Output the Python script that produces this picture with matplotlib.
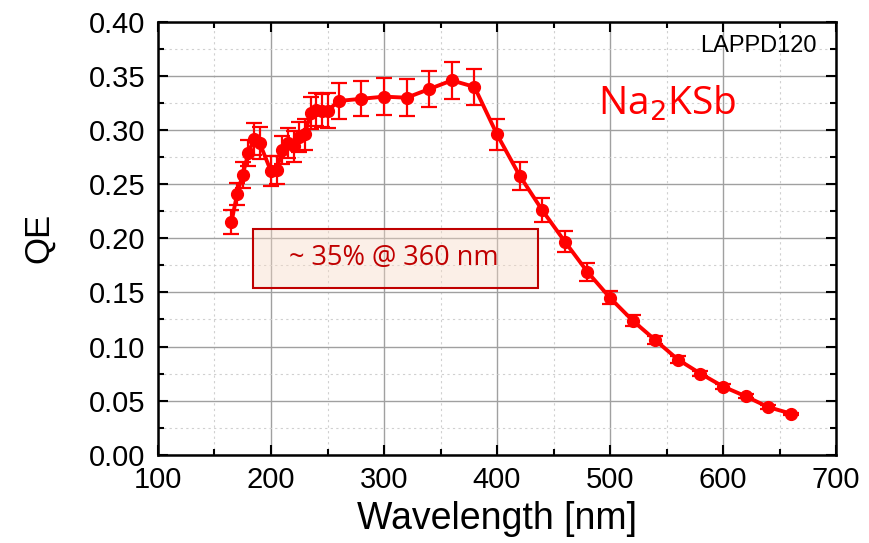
import matplotlib
matplotlib.use("Agg")
import matplotlib.pyplot as plt
from matplotlib.patches import Rectangle
from matplotlib.ticker import MultipleLocator

# Data
wavelength = [165, 170, 175, 180, 185, 190, 200, 205, 210, 215, 220, 225, 230,
              235, 240, 245, 250, 260, 280, 300, 320, 340, 360, 380, 400, 420,
              440, 460, 480, 500, 520, 540, 560, 580, 600, 620, 640, 660]
qe = [0.215, 0.241, 0.259, 0.279, 0.292, 0.288, 0.262, 0.263, 0.282, 0.288,
      0.285, 0.294, 0.296, 0.316, 0.319, 0.318, 0.318, 0.327, 0.329, 0.331,
      0.330, 0.338, 0.346, 0.340, 0.296, 0.258, 0.226, 0.197, 0.169, 0.145,
      0.124, 0.106, 0.088, 0.075, 0.063, 0.054, 0.044, 0.038]
qe_err = [0.011, 0.010, 0.012, 0.012, 0.015, 0.015, 0.014, 0.013, 0.013, 0.014,
          0.014, 0.014, 0.014, 0.015, 0.015, 0.015, 0.016, 0.017, 0.016, 0.017,
          0.017, 0.017, 0.017, 0.017, 0.014, 0.013, 0.011, 0.010, 0.008, 0.006,
          0.005, 0.004, 0.003, 0.002, 0.002, 0.002, 0.002, 0.001]

x_ticks = [100, 200, 300, 400, 500, 600, 700]
y_ticks = [0.00, 0.05, 0.10, 0.15, 0.20, 0.25, 0.30, 0.35, 0.40]

plt.rcParams['font.family'] = ['Liberation Sans', 'DejaVu Sans']

fig = plt.figure(figsize=(8.7, 5.43), dpi=100)
ax = fig.add_axes([0.1816, 0.1626, 0.7794, 0.7969])

ax.errorbar(wavelength, qe, yerr=qe_err, color='#ff0000', marker='o',
            markersize=8.5, linewidth=2.8, elinewidth=1.6, capsize=5.5,
            capthick=1.6, zorder=3)

ax.set_xlim(100, 700)
ax.set_ylim(0.0, 0.40)
ax.set_xticks(x_ticks)
ax.set_yticks(y_ticks)
ax.set_yticklabels([f"{v:.2f}" for v in y_ticks])
ax.xaxis.set_minor_locator(MultipleLocator(50))
ax.yaxis.set_minor_locator(MultipleLocator(0.025))

ax.grid(True, which='major', color='#a0a0a0', linewidth=1.0)
ax.grid(True, which='minor', color='#d0d0d0', linewidth=0.8, linestyle=(0, (2, 3)))
ax.set_axisbelow(True)

ax.tick_params(which='both', direction='in', top=True, right=True, width=1.5)
ax.tick_params(which='major', length=7, labelsize=21)
ax.tick_params(axis='x', which='major', pad=8)
ax.tick_params(axis='y', which='major', pad=9)
ax.tick_params(which='minor', length=4)
for s in ax.spines.values():
    s.set_linewidth(1.8)

ax.set_xlabel('Wavelength [nm]', fontsize=27, labelpad=5)
ax.set_ylabel('QE', fontsize=25, labelpad=24)

ax.text(0.972, 0.945, 'LAPPD120', transform=ax.transAxes, ha='right',
        va='center', fontsize=17)
ax.text(0.649, 0.81, r'Na$_2$KSb', transform=ax.transAxes, ha='left',
        va='center', fontsize=28, color='#ff0000',
        family=['Open Sans', 'DejaVu Sans'])

# annotation box
ax.add_patch(Rectangle((184, 0.1543), 252, 0.054, facecolor=(0.97, 0.85, 0.77, 0.4),
                       edgecolor='#c00000', linewidth=1.5, zorder=2))
ax.text(309, 0.1815, '~ 35% @ 360 nm', ha='center', va='center', fontsize=19.5,
        color='#c00000', family=['Open Sans', 'DejaVu Sans'], zorder=4)

fig.savefig('out.png', dpi=100)
